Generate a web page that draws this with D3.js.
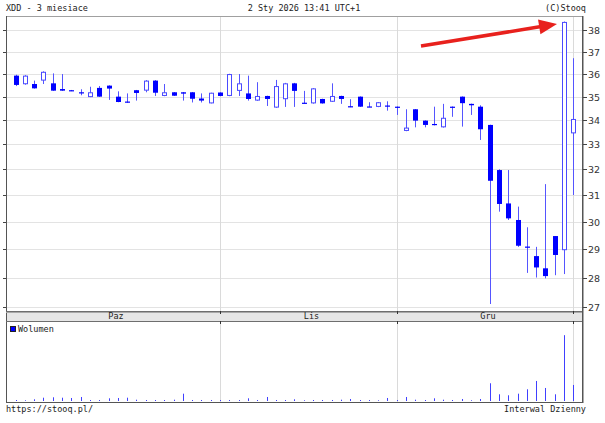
<!DOCTYPE html>
<html><head><meta charset="utf-8">
<script src="https://cdn.jsdelivr.net/npm/d3@7/dist/d3.min.js"></script>
<style>body{margin:0;background:#fff}svg{display:block}</style>
</head><body>
<svg id="c" width="605" height="423"></svg>
<script>
// ---- data ----
const dates = [
 "2025-10-02","2025-10-03","2025-10-06","2025-10-07","2025-10-08","2025-10-09","2025-10-10","2025-10-13","2025-10-14","2025-10-15",
 "2025-10-16","2025-10-17","2025-10-20","2025-10-21","2025-10-22","2025-10-23","2025-10-24","2025-10-27","2025-10-28","2025-10-29",
 "2025-10-30","2025-10-31",
 "2025-11-03","2025-11-04","2025-11-05","2025-11-06","2025-11-07","2025-11-10","2025-11-12","2025-11-13","2025-11-14","2025-11-17",
 "2025-11-18","2025-11-19","2025-11-20","2025-11-21","2025-11-24","2025-11-25","2025-11-26","2025-11-27","2025-11-28",
 "2025-12-01","2025-12-02","2025-12-03","2025-12-04","2025-12-05","2025-12-08","2025-12-09","2025-12-10","2025-12-11","2025-12-12",
 "2025-12-15","2025-12-16","2025-12-17","2025-12-18","2025-12-19","2025-12-22","2025-12-23","2025-12-29","2025-12-30",
 "2026-01-02"];
const open  = [35.92,35.54,35.55,35.70,35.58,35.33,35.28,35.19,34.98,35.38,
               35.48,35.00,34.79,35.28,35.26,35.70,35.03,35.19,35.19,35.19,
               34.92,34.71,35.18,35.03,35.25,35.14,34.83,35.03,34.53,34.89,
               35.58,34.74,34.71,34.90,34.78,35.03,34.59,35.00,34.58,34.56,
               34.62,34.57,33.55,34.46,33.98,33.84,33.70,34.57,35.00,34.69,
               34.57,33.80,31.97,30.68,30.06,29.09,28.75,28.32,29.47,28.96,
               33.45];
const high  = [35.96,35.94,35.70,36.11,36.02,35.99,35.29,35.32,35.43,35.46,
               35.49,35.23,35.14,35.29,35.72,35.72,35.55,35.20,35.20,35.20,
               35.14,35.17,35.19,36.00,35.99,35.92,35.63,35.04,35.73,35.60,
               35.60,35.25,35.37,34.91,35.58,35.04,34.89,35.01,34.76,34.77,
               34.80,34.58,34.46,34.47,33.99,34.57,34.69,34.58,35.01,34.70,
               34.63,33.81,32.00,31.97,30.56,29.79,29.08,31.42,29.47,38.40,
               36.70];
const low   = [35.46,35.52,35.35,35.55,35.25,35.25,35.24,35.06,34.98,34.99,
               34.86,34.76,34.74,34.83,35.19,35.03,35.02,35.03,34.83,34.75,
               34.75,34.71,35.02,35.02,35.03,34.83,34.82,34.60,34.52,34.56,
               34.56,34.70,34.70,34.70,34.77,34.69,34.55,34.56,34.55,34.55,
               34.40,34.22,33.54,33.70,33.70,33.78,33.69,34.14,33.73,34.22,
               33.18,27.10,30.37,30.06,29.08,28.16,28.00,27.97,28.08,28.12,
               31.00];
const close = [35.51,35.92,35.36,36.09,35.26,35.26,35.25,35.18,35.19,35.00,
               35.35,34.77,34.75,35.16,35.70,35.17,35.19,35.04,35.13,34.91,
               34.83,35.17,35.03,35.99,35.58,34.90,35.03,34.90,35.46,35.58,
               35.25,34.71,35.36,34.71,35.03,34.90,34.56,34.57,34.56,34.76,
               34.60,34.52,33.69,33.98,33.80,33.79,34.10,34.55,34.72,34.63,
               33.62,31.55,30.66,30.12,29.12,29.07,28.35,28.05,28.79,38.38,
               34.05];
const volume = [1000,700,1700,3300,3700,3300,3000,4000,1000,1000,
                2700,3000,3300,1300,1000,1000,1000,1300,7300,1000,
                1000,1000,1000,1000,1000,2700,1000,4000,1000,1000,
                1700,700,1000,1000,1000,1300,2000,1000,1000,700,
                3000,1000,4000,1300,1000,2700,1300,1000,2000,700,
                2000,17700,6700,5700,7300,11700,20000,13000,6700,65700,
                16000];
const priceTicks = [27,28,29,30,31,32,33,34,35,36,37,38];
const monthLabels = ["Paz","Lis","Gru"];
const monthStarts = ["2025-11-03","2025-12-01","2026-01-02"];
const titleLeft = "XDD - 3 miesiace";
const titleMid = "2 Sty 2026 13:41 UTC+1";
const titleRight = "(C)Stooq";
const footLeft = "https://stooq.pl/";
const footRight = "Interwal Dzienny";
const volLabel = "Wolumen";

// ---- layout ----
const L = 6, R = 582, T = 16, PB = 311, BB = 321, VT = 322, VB = 402;
const MONO = "'DejaVu Sans Mono', monospace";
const svg = d3.select("#c");

const x = d3.scalePoint().domain(dates).range([15.6, 573.3]);
const y = d3.scaleLog().domain([27, 38]).range([307, 30]);
const yv = d3.scaleLinear().domain([0, d3.max(volume) * 1.2]).range([401, VT]);
const cx = d => Math.round(x(d));

const data = dates.map((d, i) => ({d, o: open[i], h: high[i], l: low[i], c: close[i], v: volume[i]}));

// grid
const grid = svg.append("g");
grid.selectAll("line.h").data(priceTicks).join("line")
  .attr("x1", L).attr("x2", R)
  .attr("y1", t => Math.round(y(t)) + 0.5).attr("y2", t => Math.round(y(t)) + 0.5)
  .attr("stroke", "#e3e3e3");
grid.selectAll("line.vp").data(monthStarts).join("line")
  .attr("x1", d => cx(d) + 0.5).attr("x2", d => cx(d) + 0.5)
  .attr("y1", T).attr("y2", PB).attr("stroke", "#dadada");
grid.selectAll("line.vv").data(monthStarts).join("line")
  .attr("x1", d => cx(d) + 0.5).attr("x2", d => cx(d) + 0.5)
  .attr("y1", VT).attr("y2", VB).attr("stroke", "#dadada");

// frame
const fr = svg.append("g");
fr.append("line").attr("x1", L).attr("x2", R).attr("y1", T + 0.5).attr("y2", T + 0.5).attr("stroke", "#a0a0a0");
fr.append("line").attr("x1", L + 0.5).attr("x2", L + 0.5).attr("y1", T).attr("y2", VB).attr("stroke", "#555");
fr.append("line").attr("x1", R + 0.5).attr("x2", R + 0.5).attr("y1", T).attr("y2", VB + 1).attr("stroke", "#555");
fr.append("line").attr("x1", R + 1.5).attr("x2", R + 1.5).attr("y1", T).attr("y2", VB + 1).attr("stroke", "#aaa");
fr.append("line").attr("x1", L).attr("x2", R + 1).attr("y1", VB + 0.5).attr("y2", VB + 0.5).attr("stroke", "#555");
// date band
fr.append("rect").attr("x", L + 1).attr("y", PB).attr("width", R - L - 1).attr("height", BB - PB).attr("fill", "#e6e6e6");
fr.append("line").attr("x1", L).attr("x2", R).attr("y1", PB + 0.5).attr("y2", PB + 0.5).attr("stroke", "#6e6e6e");
fr.append("line").attr("x1", L).attr("x2", R).attr("y1", PB + 1.5).attr("y2", PB + 1.5).attr("stroke", "#a8a8a8");
fr.append("line").attr("x1", L).attr("x2", R).attr("y1", BB + 0.5).attr("y2", BB + 0.5).attr("stroke", "#6e6e6e");
fr.selectAll("line.bt").data(monthStarts).join("line")
  .attr("x1", d => cx(d) + 0.5).attr("x2", d => cx(d) + 0.5).attr("y1", PB).attr("y2", PB + 3).attr("stroke", "#333");
fr.selectAll("line.bb").data(monthStarts).join("line")
  .attr("x1", d => cx(d) + 0.5).attr("x2", d => cx(d) + 0.5).attr("y1", BB).attr("y2", BB + 3).attr("stroke", "#333");
const bounds = [L, ...monthStarts.map(d => cx(d))];
fr.selectAll("text.m").data(monthLabels).join("text")
  .attr("x", (m, i) => (bounds[i] + bounds[i + 1]) / 2 + 3).attr("y", 319)
  .attr("text-anchor", "middle").attr("font-family", MONO).attr("font-size", 8.5).attr("fill", "#222").text(m => m);

// axis ticks and labels
const ax = svg.append("g");
ax.selectAll("line.rt").data(priceTicks).join("line")
  .attr("x1", R + 1).attr("x2", R + 5)
  .attr("y1", t => Math.round(y(t)) + 0.5).attr("y2", t => Math.round(y(t)) + 0.5).attr("stroke", "#444");
ax.selectAll("line.lt").data(priceTicks).join("line")
  .attr("x1", L - 3).attr("x2", L)
  .attr("y1", t => Math.round(y(t)) + 0.5).attr("y2", t => Math.round(y(t)) + 0.5).attr("stroke", "#444");
ax.selectAll("text").data(priceTicks).join("text")
  .attr("x", R + 6).attr("y", t => Math.round(y(t)) + 4)
  .attr("font-family", "'DejaVu Sans', sans-serif").attr("font-size", 9.5).attr("fill", "#333")
  .text(t => t);

// candles
const cg = svg.append("g");
cg.selectAll("line.w").data(data).join("line")
  .attr("x1", d => cx(d.d) + 0.5).attr("x2", d => cx(d.d) + 0.5)
  .attr("y1", d => y(d.h)).attr("y2", d => y(d.l))
  .attr("stroke", "#5555ff").attr("stroke-width", 1);
cg.selectAll("rect.b").data(data).join("rect")
  .attr("x", d => d.c < d.o ? cx(d.d) - 2 : cx(d.d) - 1.5)
  .attr("width", d => d.c < d.o ? 5 : 4)
  .attr("y", d => d.c < d.o ? y(d.o) : y(d.c) + 0.5)
  .attr("height", d => d.c < d.o ? Math.max(1.2, y(d.c) - y(d.o)) : Math.max(1, y(d.o) - y(d.c) - 1))
  .attr("fill", d => d.c < d.o ? "#0000ff" : "#fff")
  .attr("stroke", d => d.c < d.o ? "none" : "#4a4aff")
  .attr("stroke-width", 1);

// volume
svg.append("g").selectAll("rect").data(data).join("rect")
  .attr("x", d => cx(d.d)).attr("width", 1)
  .attr("y", d => yv(d.v)).attr("height", d => 401 - yv(d.v))
  .attr("fill", "#4040ff");
svg.append("rect").attr("x", 10.5).attr("y", 326.5).attr("width", 5).attr("height", 5)
  .attr("fill", "#0000ff").attr("stroke", "#222").attr("stroke-width", 1);
svg.append("text").attr("x", 18).attr("y", 332).attr("font-family", MONO).attr("font-size", 8.5)
  .attr("fill", "#222").text(volLabel);

// header / footer
const tx = (s, xx, yy, anchor) => svg.append("text").attr("x", xx).attr("y", yy)
  .attr("text-anchor", anchor).attr("font-family", MONO).attr("font-size", 8.5).attr("fill", "#222").text(s);
tx(titleLeft, 6, 11, "start");
tx(titleMid, 304, 11, "middle");
tx(titleRight, 586, 11, "end");
tx(footLeft, 6, 412, "start");
tx(footRight, 586, 412, "end");

// red annotation arrow pointing at the spike
const peak = data[59];
const tip = [cx(peak.d) - 7, y(peak.h) + 2.5];
const start = [tip[0] - 136, tip[1] + 22];
const len = Math.hypot(tip[0] - start[0], tip[1] - start[1]);
const ux = (tip[0] - start[0]) / len, uy = (tip[1] - start[1]) / len;
const hb = [tip[0] - 18 * ux, tip[1] - 18 * uy];
svg.append("line").attr("x1", start[0]).attr("y1", start[1]).attr("x2", hb[0] + 2 * ux).attr("y2", hb[1] + 2 * uy)
  .attr("stroke", "#e8211d").attr("stroke-width", 3.5);
svg.append("path").attr("d", `M${tip[0]},${tip[1]}L${hb[0] - 7.5 * uy},${hb[1] + 7.5 * ux}L${hb[0] + 7.5 * uy},${hb[1] - 7.5 * ux}Z`)
  .attr("fill", "#e8211d");
</script>
</body></html>
